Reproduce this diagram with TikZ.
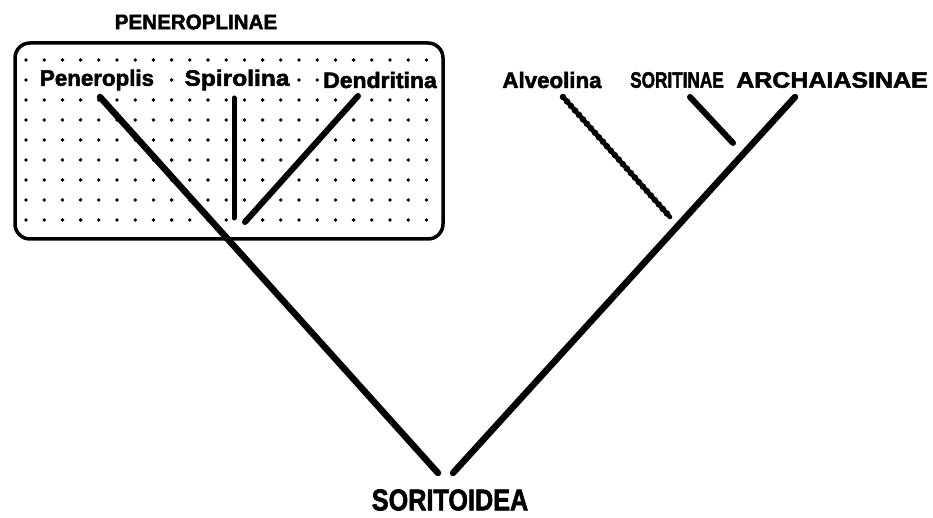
\documentclass[tikz,border=0pt]{standalone}
\usepackage{fontspec}
\setmainfont{Liberation Sans}[BoldFeatures={FakeBold=2.2}]
\usepackage{graphicx}
\newcommand{\lbl}[2]{\scalebox{#1}[1]{\bfseries #2}}
\begin{document}
\begin{tikzpicture}[x=1pt,y=-1pt,
  lab/.style={font=\fontsize{22.3}{24}\selectfont, inner sep=1pt, fill=white},
  branch/.style={line width=6.5pt, line cap=round},
  thinbranch/.style={line width=5pt, line cap=round},
  groupbox/.style={line width=3.5pt, rounded corners=15pt}]
\useasboundingbox (0,0) rectangle (933,518);
% group box with dot grid
\draw[groupbox] (15,43) rectangle (443,239);
\foreach \i in {0,...,22}
  \foreach \j in {0,...,8}
    \fill (26+\i*18.2, 60+\j*20) circle (1.9pt);
% labels
\node[lab, fill=none, font=\fontsize{21}{24}\selectfont] (penin) at (196,22) {\lbl{0.98}{PENEROPLINAE}};
\node[lab] (pen) at (97,80) {\lbl{1.0}{Peneroplis}};
\node[lab] (spi) at (237,80) {\lbl{1.1}{Spirolina}};
\node[lab] (den) at (380,80) {\lbl{1.03}{Dendritina}};
\node[lab] (alv) at (552,80) {\lbl{1.0}{Alveolina}};
\node[lab] (sor) at (677,80) {\lbl{0.77}{SORITINAE}};
\node[lab] (arc) at (832,80) {\lbl{1.12}{ARCHAIASINAE}};
\node[lab, fill=none, inner sep=0pt, font=\fontsize{30}{34}\selectfont] (root) at (450,500) {\scalebox{0.84}[1]{\bfseries SORITOIDEA}};
% branch ends
\coordinate (pen1) at (100,97);
\coordinate (rootL) at (438,473);
\coordinate (spi1) at (234,98);
\coordinate (spi2) at (234,218);
\coordinate (den1) at (358,96);
\coordinate (den2) at (245,222);
\coordinate (rootR) at (453,473);
\coordinate (arc1) at (795,97);
\coordinate (alv1) at (563,97);
\coordinate (alv2) at (670,217);
\coordinate (sor1) at (690,97);
\coordinate (sor2) at (733,143);
% branches
\draw[branch] (pen1) -- (rootL);
\draw[thinbranch] (spi1) -- (spi2);
\draw[branch, line width=6pt] (den1) -- (den2);
\draw[branch] (rootR) -- (arc1);
\draw[line width=4.5pt, line cap=round] (alv1) -- (alv2);
\draw[line width=6.5pt, line cap=round, dash pattern=on 0pt off 6pt] (alv1) -- (alv2);
\draw[branch, line width=6pt] (sor1) -- (sor2);
\end{tikzpicture}
\end{document}
